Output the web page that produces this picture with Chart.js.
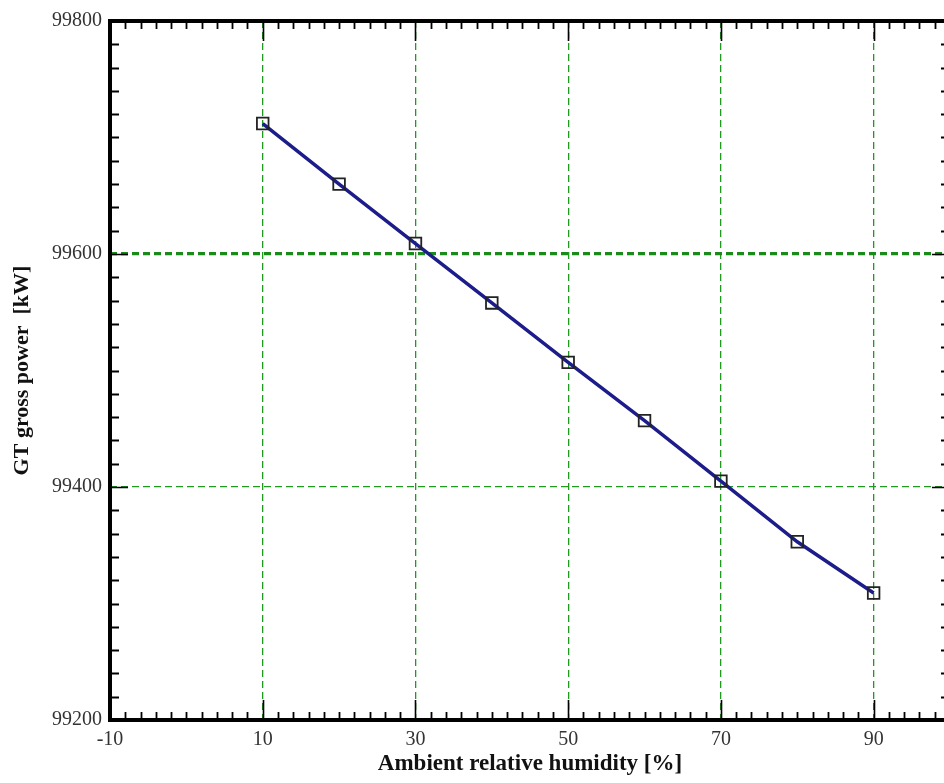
<!DOCTYPE html>
<html>
<head>
<meta charset="utf-8">
<title>GT gross power vs ambient humidity</title>
<script src="https://cdn.jsdelivr.net/npm/chart.js@4"></script>
<style>
  html, body { margin: 0; padding: 0; background: #fff; overflow: hidden; }
  #wrap { width: 960px; height: 783px; }
</style>
</head>
<body>
<div id="wrap"><canvas id="powerChart" width="960" height="783"></canvas></div>
<script>
// humidity [%] and gross power [kW]
const humidity = [10, 20, 30, 40, 50, 60, 70, 80, 90];
const grossPower = [99712, 99660, 99609, 99558, 99507, 99457, 99405, 99353, 99309];

// axis labels
const xTicks = [-10, 10, 30, 50, 70, 90];
const yTicks = [99200, 99400, 99600, 99800];
const xRange = [-10, 100];
const yRange = [99200, 99800];
const xMinorStep = 2;
const yMinorStep = 20;

const gridGreen = '#1f9a1f';

// black frame with inward major/minor ticks on every side
const framePlugin = {
  id: 'frame',
  afterDraw(chart) {
    const { ctx, chartArea: a, scales } = chart;
    const xs = scales.x, ys = scales.y;
    ctx.save();
    ctx.strokeStyle = '#000';
    ctx.lineCap = 'butt';

    // x ticks (bottom and top)
    for (let v = xRange[0] + xMinorStep; v < xRange[1]; v += xMinorStep) {
      const major = xTicks.includes(v);
      const len = major ? 20 : 8;
      const px = Math.round(xs.getPixelForValue(v)) + 0.5;
      ctx.lineWidth = major ? 1.6 : 1.8;
      ctx.beginPath();
      ctx.moveTo(px, a.bottom); ctx.lineTo(px, a.bottom - len);
      ctx.moveTo(px, a.top); ctx.lineTo(px, a.top + len);
      ctx.stroke();
    }
    // y ticks (left and right)
    for (let v = yRange[0] + yMinorStep; v < yRange[1]; v += yMinorStep) {
      const major = yTicks.includes(v);
      const len = major ? 18 : 9;
      const py = Math.round(ys.getPixelForValue(v)) + 0.5;
      ctx.lineWidth = major ? 1.6 : 1.8;
      ctx.beginPath();
      ctx.moveTo(a.left, py); ctx.lineTo(a.left + len, py);
      ctx.moveTo(a.right, py); ctx.lineTo(a.right - len, py);
      ctx.stroke();
    }

    ctx.lineWidth = 4;
    ctx.strokeRect(a.left, a.top, a.right - a.left, a.bottom - a.top);
    ctx.restore();
  }
};

new Chart(document.getElementById('powerChart'), {
  type: 'line',
  data: {
    datasets: [{
      data: humidity.map((h, i) => ({ x: h, y: grossPower[i] })),
      borderColor: '#1c1c8a',
      borderWidth: 3.5,
      tension: 0,
      pointStyle: 'rect',
      pointRadius: 8.2,
      pointBorderColor: '#222',
      pointBorderWidth: 1.8,
      pointBackgroundColor: 'rgba(0,0,0,0)'
    }]
  },
  options: {
    responsive: false,
    animation: false,
    layout: { padding: { top: 21, right: 7, left: 0, bottom: 0 } },
    plugins: { legend: { display: false }, tooltip: { enabled: false } },
    scales: {
      x: {
        type: 'linear',
        min: xRange[0],
        max: xRange[1],
        afterBuildTicks: s => { s.ticks = xTicks.map(v => ({ value: v })); },
        afterFit: s => { s.height = 63; },
        grid: { color: gridGreen, lineWidth: 1.3, drawTicks: false },
        border: { display: false, dash: [7, 4] },
        ticks: {
          padding: 8,
          color: '#333',
          callback: v => String(v),
          font: { family: 'Liberation Serif', size: 20 }
        },
        title: {
          display: true,
          text: 'Ambient relative humidity [%]',
          color: '#111',
          padding: { top: 0, bottom: 5 },
          font: { family: 'Liberation Serif', size: 23, weight: 'bold' }
        }
      },
      y: {
        min: yRange[0],
        max: yRange[1],
        afterBuildTicks: s => { s.ticks = yTicks.map(v => ({ value: v })); },
        afterFit: s => { s.width = 110; },
        grid: {
          color: ctx => ctx.tick && ctx.tick.value === 99600 ? '#1a8a1a' : gridGreen,
          lineWidth: ctx => ctx.tick && ctx.tick.value === 99600 ? 3.2 : 1.3,
          drawTicks: false
        },
        border: { display: false, dash: [7, 4] },
        ticks: {
          padding: 8,
          color: '#333',
          callback: v => String(v),
          font: { family: 'Liberation Serif', size: 20 }
        },
        title: {
          display: true,
          text: 'GT gross power  [kW]',
          color: '#111',
          padding: { top: 9, bottom: 0 },
          font: { family: 'Liberation Serif', size: 22, weight: 'bold' }
        }
      }
    }
  },
  plugins: [framePlugin]
});
</script>
</body>
</html>
